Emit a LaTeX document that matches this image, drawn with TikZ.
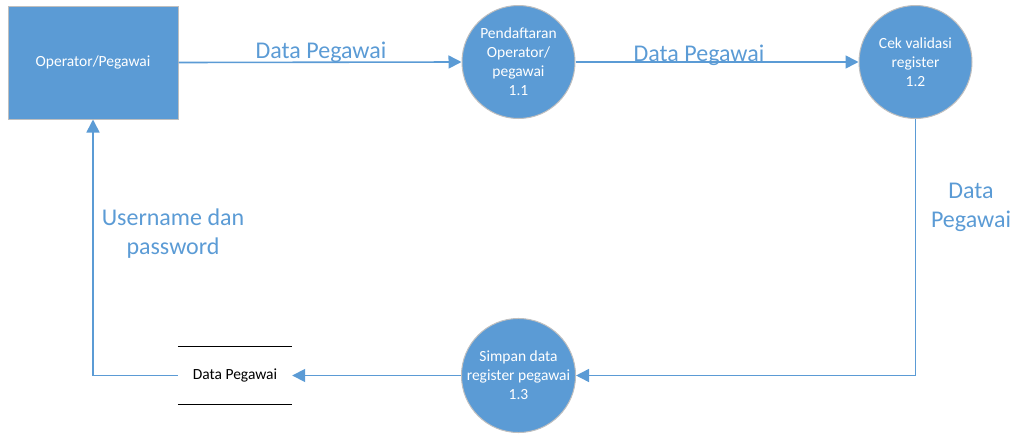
\documentclass[tikz,border=0pt]{standalone}
\usepackage{fontspec}
\setmainfont{Carlito}
\usepackage{tikz}
\usetikzlibrary{positioning,arrows.meta}
\definecolor{dfdblue}{HTML}{5B9BD5}

\tikzset{
  ent/.style={draw=black!25, line width=1pt, fill=dfdblue, text=white,
    minimum width=170pt, minimum height=113pt, font=\fontsize{15.5}{19}\selectfont},
  proc/.style={circle, draw=black!25, line width=1pt, fill=dfdblue, text=white,
    minimum size=113pt, inner sep=0pt, align=center, font=\fontsize{15.5}{19}\selectfont},
  flow/.style={draw=dfdblue, line width=1.6pt, -{Triangle[length=13pt,width=13pt]}},
  lbl/.style={text=dfdblue, align=center, font=\fontsize{24}{29}\selectfont},
}

\begin{document}
\begin{tikzpicture}[x=1pt,y=-1pt]
\useasboundingbox (0,0) rectangle (1018,434);
\node (op) [ent] at (93,62.5) {Operator/Pegawai};
\node (P11) [proc] at (518.5,62) {Pendaftaran\\Operator/\\pegawai\\1.1};
\node (P12) [proc] at (915.5,62) {Cek validasi\\register\\1.2};
\node (P13) [proc] at (518.5,375.5) {Simpan data\\register pegawai\\1.3};
\node (store) [minimum width=114pt, minimum height=57pt, font=\fontsize{15.5}{19}\selectfont] at (235,375.5) {Data Pegawai};
\draw[line width=1pt] (store.north west) -- (store.north east);
\draw[line width=1pt] (store.south west) -- (store.south east);

\node (L1) [lbl, anchor=base] at (321,58) {Data Pegawai};
\node (L2) [lbl, anchor=base] at (699,61) {Data Pegawai};
\node (L3) [lbl] at (971,207) {Data\\Pegawai};
\node (L4) [lbl] at (173,234) {Username dan\\password};

\draw[flow] (op.east) -- (P11.west);
\draw[flow] (P11.east) -- (P12.west);
\draw[flow] (P12.south) |- (P13.east);
\draw[flow] (P13.west) -- (store.east);
\draw[flow] (store.west) -| (op.south);
\end{tikzpicture}
\end{document}
